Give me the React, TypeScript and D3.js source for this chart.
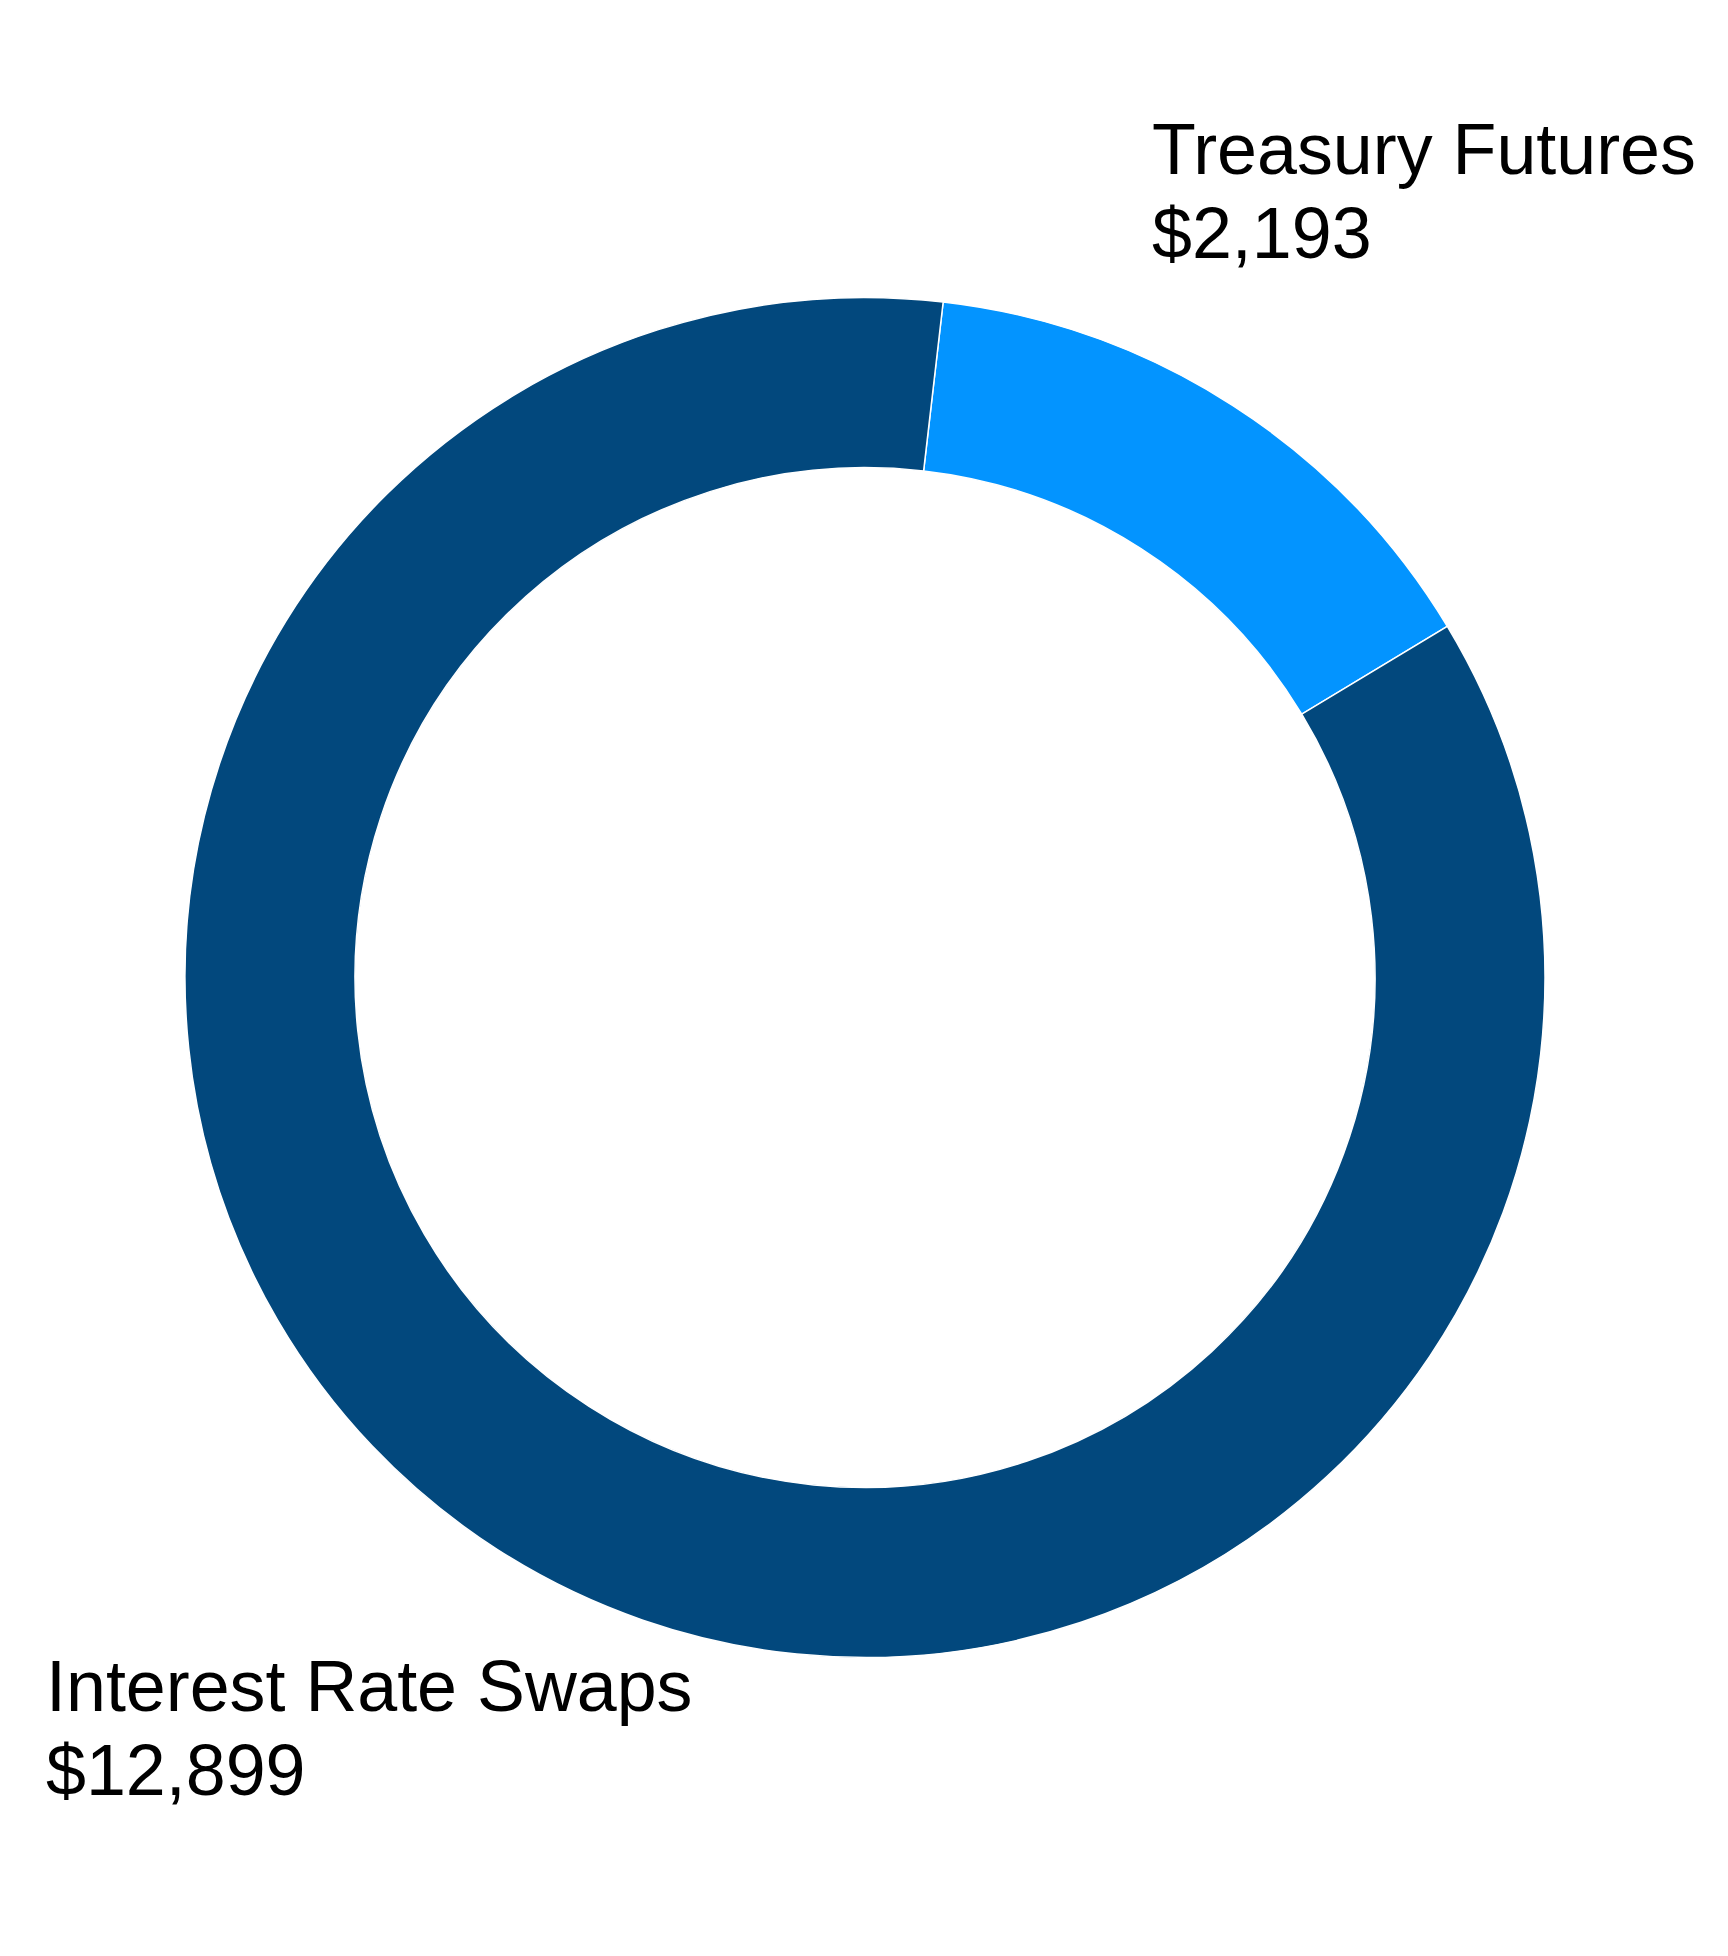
import React, { useEffect, useRef } from 'react';
import * as d3 from 'd3';

const categories = ['Treasury Futures', 'Interest Rate Swaps'];
const values = [2193, 12899];
const colors = ['#0394FF', '#02487D'];

type Slice = { name: string; value: number; color: string };

const width = 1728;
const height = 1956;

const App: React.FC = () => {
  const ref = useRef<SVGSVGElement>(null);

  useEffect(() => {
    if (!ref.current) return;
    const svg = d3.select(ref.current);
    svg.selectAll('*').remove();

    const cx = 865;
    const cy = 977.5;
    const outer = 680;
    const inner = 510;

    const data: Slice[] = categories.map((name, i) => ({
      name,
      value: values[i],
      color: colors[i],
    }));

    // treasury slice starts just right of twelve o'clock
    const start = (6.6 * Math.PI) / 180;
    const pie = d3
      .pie<Slice>()
      .sort(null)
      .value(d => d.value)
      .startAngle(start)
      .endAngle(start + 2 * Math.PI);

    const arc = d3.arc<d3.PieArcDatum<Slice>>().innerRadius(inner).outerRadius(outer);

    const g = svg.append('g').attr('transform', `translate(${cx},${cy})`);

    g.selectAll('path')
      .data(pie(data))
      .enter()
      .append('path')
      .attr('d', arc)
      .attr('fill', d => d.data.color)
      .attr('stroke', '#ffffff')
      .attr('stroke-width', 1.5);

    const fmt = d3.format('$,');
    const labelPos: Record<string, [number, number]> = {
      'Treasury Futures': [1152, 174],
      'Interest Rate Swaps': [46, 1711],
    };

    data.forEach(d => {
      const [x, y] = labelPos[d.name];
      const t = svg
        .append('text')
        .attr('x', x)
        .attr('y', y)
        .attr('font-family', '"Liberation Sans", Arial, sans-serif')
        .attr('font-size', 71.8)
        .attr('fill', '#000000');
      t.append('tspan').attr('x', x).text(d.name);
      t.append('tspan').attr('x', x).attr('dy', 84).text(fmt(d.value));
    });
  }, []);

  return (
    <svg
      ref={ref}
      width={width}
      height={height}
      style={{ position: 'absolute', left: 0, top: 0, background: '#ffffff' }}
    />
  );
};

export default App;
